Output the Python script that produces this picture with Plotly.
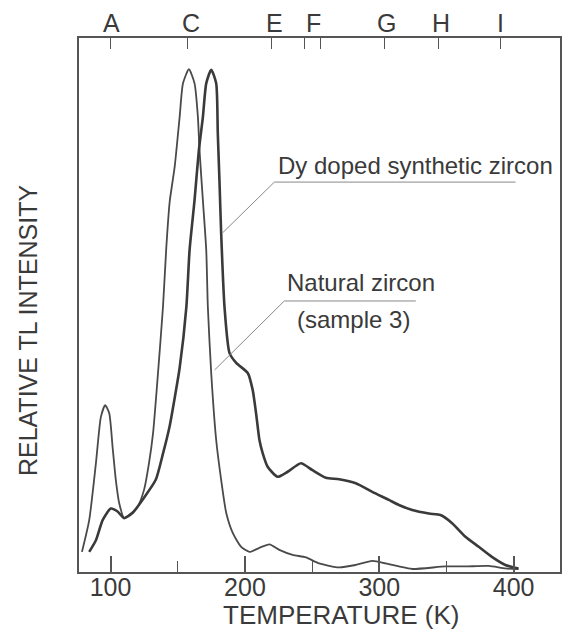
import plotly.graph_objects as go

# ---- Data (temperature in K, relative TL intensity, peak ~100) ----
natural_T = [78.7, 84.1, 89.1, 92.8, 96.0, 99.0, 101.5, 103.9, 106.4, 110.1, 113.8, 120.0,
             124.9, 128.6, 131.6, 135.3, 139.0, 141.5, 144.0, 147.7, 151.4, 153.9, 158.3,
             162.5, 165.0, 166.2, 168.7, 171.2, 172.4, 174.9, 178.6, 182.3, 186.1, 191.0,
             197.2, 203.3, 210.8, 218.2, 225.6, 235.5, 245.4, 255.3, 270.1, 282.5, 294.8,
             304.7, 314.6, 324.5, 349.3, 364.1, 381.4, 393.8, 403.6]
natural_I = [4.0, 10.3, 21.6, 30.8, 33.1, 31.5, 24.8, 18.3, 13.7, 10.7, 11.3, 12.9,
             16.3, 21.6, 27.5, 39.5, 52.6, 64.5, 73.5, 80.4, 90.3, 97.0, 99.8,
             97.0, 90.3, 83.7, 73.8, 63.9, 52.6, 39.5, 26.2, 18.3, 11.7, 7.7,
             5.0, 4.0, 4.8, 5.5, 4.4, 3.4, 2.9, 1.7, 0.9, 1.4, 2.2,
             1.7, 1.1, 0.6, 1.1, 1.1, 1.2, 0.7, 0.6]

dy_T = [84.1, 89.1, 94.1, 100.2, 105.2, 110.1, 116.3, 123.7, 133.6, 139.0, 144.0, 148.0,
        151.4, 156.4, 158.8, 162.5, 165.7, 168.7, 171.2, 174.9, 178.6, 179.8, 181.1,
        182.3, 184.8, 188.5, 193.5, 202.1, 205.8, 208.3, 210.8, 213.2, 216.9, 224.3,
        231.8, 241.7, 250.3, 260.2, 270.1, 282.5, 294.8, 307.2, 314.6, 324.5, 336.9,
        345.5, 354.2, 364.1, 374.0, 383.8, 393.8, 403.6]
dy_I = [4.0, 6.3, 10.3, 12.6, 12.0, 10.7, 11.7, 14.3, 18.3, 23.5, 29.0, 35.0,
        40.5, 52.6, 63.9, 73.8, 83.7, 90.3, 97.0, 99.7, 97.0, 87.1, 77.2,
        67.3, 52.6, 43.5, 41.5, 39.5, 36.1, 31.5, 26.2, 23.6, 20.9, 18.9,
        19.9, 21.6, 20.2, 18.7, 18.4, 17.6, 15.9, 14.3, 13.3, 12.3, 11.6,
        11.3, 9.7, 7.0, 5.0, 3.0, 1.4, 0.7]

bottom_ticks = [100, 200, 300, 400]
peak_positions = [100, 157, 220, 244, 256, 304, 344, 390]
peak_labels = ["A", "C", "E", "F", "G", "H", "I"]
peak_label_pos = [101, 159.6, 222, 251, 305.7, 345.8, 390]

X_RANGE = [76.5, 434.5]
Y_RANGE = [0, 106]

FONT = "Liberation Sans, Arial, sans-serif"
INK = "#3a3a3a"

fig = go.Figure()
fig.add_trace(go.Scatter(x=natural_T, y=natural_I, mode="lines", name="Natural zircon (sample 3)",
                         line=dict(color="#4a4a4a", width=1.8, shape="spline", smoothing=0.6)))
fig.add_trace(go.Scatter(x=dy_T, y=dy_I, mode="lines", name="Dy doped synthetic zircon",
                         line=dict(color="#3a3a3a", width=2.6, shape="spline", smoothing=0.6)))
# invisible trace to activate top axis
fig.add_trace(go.Scatter(x=X_RANGE, y=[None, None], xaxis="x2", showlegend=False,
                         hoverinfo="skip", mode="lines"))

fig.update_layout(
    width=572, height=631,
    margin=dict(l=79, r=10, t=38, b=59),
    paper_bgcolor="white", plot_bgcolor="white",
    showlegend=False,
    font=dict(family=FONT, color=INK),
    xaxis=dict(range=X_RANGE, showgrid=False, zeroline=False,
               showline=True, linecolor="#555", linewidth=1.5, mirror=True,
               tickvals=bottom_ticks, ticks="inside", ticklen=16, tickwidth=1.5, tickcolor="#555",
               ticklabelstandoff=-8,
               tickfont=dict(size=25, family=FONT, color=INK),
               minor=dict(dtick=50, tick0=0, ticks="inside", ticklen=11, tickwidth=1.3, tickcolor="#555")),
    xaxis2=dict(range=X_RANGE, overlaying="x", side="top", showgrid=False, zeroline=False,
                showline=False, tickvals=peak_positions, ticktext=[""] * len(peak_positions),
                ticks="inside", ticklen=11, tickwidth=1.3, tickcolor="#555"),
    yaxis=dict(range=Y_RANGE, showgrid=False, zeroline=False, showticklabels=False,
               showline=True, linecolor="#555", linewidth=1.5, mirror=True, ticks=""),
)

# top peak letters
for lab, xp in zip(peak_labels, peak_label_pos):
    fig.add_annotation(x=xp, y=1.0, xref="x", yref="paper", yshift=15, text=lab,
                       showarrow=False, xanchor="center", yanchor="middle",
                       font=dict(size=25, family=FONT, color=INK))

# axis titles
fig.add_annotation(x=0.5455, y=0, xref="paper", yref="paper", yshift=-43, text="TEMPERATURE (K)",
                   showarrow=False, xanchor="center", yanchor="middle",
                   font=dict(size=26, family=FONT, color=INK))
fig.add_annotation(x=0, y=0.453, xref="paper", yref="paper", xshift=-51, text="RELATIVE TL INTENSITY",
                   showarrow=False, textangle=-90, xanchor="center", yanchor="middle",
                   font=dict(size=25, family=FONT, color=INK))

# curve labels with leader lines
fig.add_annotation(x=326.8, y=80.6, text="Dy doped synthetic zircon", showarrow=False,
                   font=dict(size=24, family=FONT, color=INK))
fig.add_annotation(x=286.1, y=57.5, text="Natural zircon", showarrow=False,
                   font=dict(size=24, family=FONT, color=INK))
fig.add_annotation(x=280.5, y=50.2, text="(sample 3)", showarrow=False,
                   font=dict(size=24, family=FONT, color=INK))

leader = dict(color="#888", width=1)
fig.add_shape(type="line", x0=221.9, y0=77.4, x1=401.4, y1=77.4, line=leader)
fig.add_shape(type="line", x0=221.9, y0=77.4, x1=183.3, y1=67.3, line=leader)
fig.add_shape(type="line", x0=229.3, y0=53.8, x1=327.2, y1=53.8, line=leader)
fig.add_shape(type="line", x0=229.3, y0=53.8, x1=177.4, y1=40.1, line=leader)

fig.write_html("out.html")
